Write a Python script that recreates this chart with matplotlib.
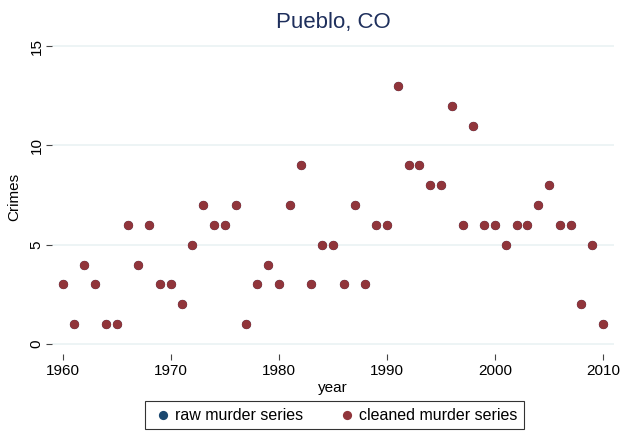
import matplotlib.pyplot as plt

# murders per year, Pueblo CO
years = list(range(1960, 2011))
cleaned = [3, 1, 4, 3, 1, 1, 6, 4, 6, 3,
           3, 2, 5, 7, 6, 6, 7, 1, 3, 4,
           3, 7, 9, 3, 5, 5, 3, 7, 3, 6,
           6, 13, 9, 9, 8, 8, 12, 6, 11, 6,
           6, 5, 6, 6, 7, 8, 6, 6, 2, 5,
           1]
raw = list(cleaned)  # raw series sits under the cleaned one

plt.rcParams['font.family'] = ['Liberation Sans', 'DejaVu Sans']

fig = plt.figure(figsize=(6.25, 4.37), dpi=100)
ax = fig.add_axes([0.0832, 0.19, 0.899, 0.718])

ax.scatter(years, raw, s=44, color='#1a476f', label='raw murder series', zorder=3, linewidths=0)
ax.scatter(years, cleaned, s=44, color='#90353b', label='cleaned murder series', zorder=4, linewidths=0)

ax.set_xlim(1959, 2011)
ax.set_ylim(-0.5, 15.3)
ax.set_xticks([1960, 1970, 1980, 1990, 2000, 2010])
ax.set_yticks([0, 5, 10, 15])
ax.grid(axis='y', color='#eaf2f3', linewidth=1.2)
ax.set_axisbelow(True)
for s in ax.spines.values():
    s.set_visible(False)
ax.tick_params(axis='both', labelsize=11, length=4, width=0.8, color='#444444')
ax.tick_params(axis='y', labelrotation=90, pad=2)
for lab in ax.get_yticklabels():
    lab.set_va('center')

ax.set_xlabel('year', fontsize=11, labelpad=2)
ax.set_ylabel('Crimes', fontsize=11, labelpad=6)
ax.set_title('Pueblo, CO', fontsize=16, color='#1e2f5c', pad=9)

leg = fig.legend(loc='lower center', bbox_to_anchor=(0.535, 0.0), ncol=2, fontsize=11.5,
                 frameon=True, fancybox=False, edgecolor='black', handletextpad=0.0,
                 columnspacing=2.0, borderpad=0.4, handlelength=1.5)
leg.get_frame().set_linewidth(0.8)

fig.savefig('out.png', dpi=100)
